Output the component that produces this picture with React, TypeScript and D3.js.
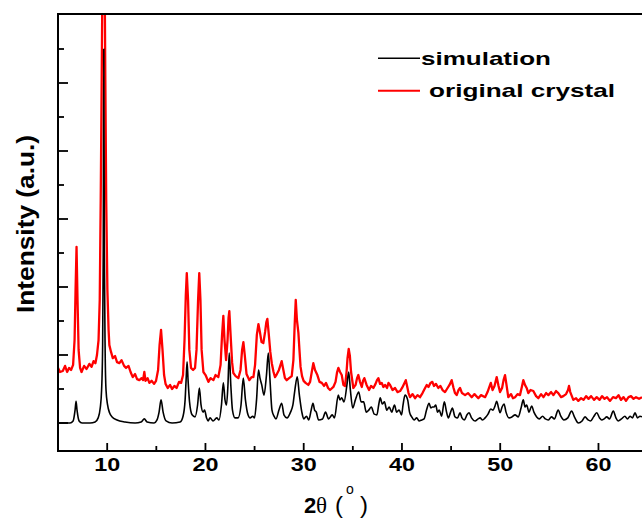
import React from "react";
import * as d3 from "d3";

// 2θ (deg), intensity (a.u.)
const simulation: [number, number][] = [
  [5.0, 0], [6.22, 0], [6.53, 30], [6.73, 190], [6.83, 320], [6.93, 190], [7.14, 30], [7.44, 0],
  [8.26, 0], [8.77, 15], [9.08, 75], [9.29, 220], [9.43, 485], [9.53, 1075], [9.6, 2545], [9.65, 5500],
  [9.71, 2545], [9.79, 1075], [9.88, 485], [10.04, 265], [10.24, 150], [10.5, 90], [11.0, 45], [11.82, 15],
  [12.84, 0], [13.45, 15], [13.78, 60], [14.06, 15], [14.77, 0], [15.07, 45], [15.28, 160], [15.48, 340],
  [15.69, 160], [15.99, 30], [16.6, 0], [17.42, 15], [17.72, 100], [17.93, 340], [18.03, 630], [18.13, 900],
  [18.23, 630], [18.38, 310], [18.64, 120], [18.94, 90], [19.2, 265], [19.38, 515], [19.55, 265], [19.76, 160],
  [19.91, 190], [20.11, 75], [20.27, 30], [20.47, 75], [20.77, 30], [21.15, 75], [21.38, 45], [21.63, 265],
  [21.82, 590], [21.99, 340], [22.14, 265], [22.29, 560], [22.42, 1030], [22.58, 560], [22.75, 190], [23.01, 75],
  [23.32, 75], [23.62, 265], [23.85, 660], [24.07, 340], [24.33, 120], [24.54, 75], [24.81, 100], [24.99, 75],
  [25.2, 340], [25.4, 780], [25.55, 660], [25.73, 560], [25.96, 410], [26.21, 705], [26.4, 1030], [26.57, 630],
  [26.77, 190], [26.98, 100], [27.18, 60], [27.48, 190], [27.76, 290], [27.99, 120], [28.3, 75], [28.66, 160],
  [28.9, 265], [29.1, 485], [29.34, 680], [29.56, 410], [29.81, 160], [30.01, 60], [30.28, 100], [30.52, 45],
  [30.76, 190], [30.94, 290], [31.11, 190], [31.28, 160], [31.51, 45], [31.92, 60], [32.22, 160], [32.53, 60],
  [32.9, 120], [33.13, 75], [33.52, 410], [33.69, 340], [33.87, 370], [34.1, 310], [34.4, 560], [34.58, 750],
  [34.75, 485], [34.99, 220], [35.26, 340], [35.6, 455], [35.84, 310], [36.1, 310], [36.37, 160], [36.62, 190],
  [36.88, 235], [37.18, 130], [37.45, 120], [37.63, 265], [37.79, 370], [37.99, 280], [38.22, 310], [38.45, 190],
  [38.7, 235], [38.96, 160], [39.24, 265], [39.46, 160], [39.71, 190], [39.96, 120], [40.11, 265], [40.31, 410],
  [40.58, 340], [40.77, 160], [40.99, 90], [41.23, 45], [41.5, 75], [41.74, 30], [42.01, 45], [42.25, 60],
  [42.5, 190], [42.76, 290], [42.94, 220], [43.09, 235], [43.26, 235], [43.44, 265], [43.62, 160], [43.8, 190],
  [44.03, 100], [44.31, 310], [44.54, 160], [44.72, 75], [44.95, 160], [45.13, 220], [45.4, 90], [45.66, 75],
  [45.91, 150], [46.11, 75], [46.35, 45], [46.62, 120], [46.83, 150], [47.08, 75], [47.44, 30], [47.74, 60],
  [47.95, 75], [48.2, 45], [48.46, 75], [48.76, 130], [49.04, 205], [49.27, 190], [49.47, 250], [49.64, 320],
  [49.83, 220], [49.98, 150], [50.19, 235], [50.39, 280], [50.59, 160], [50.9, 75], [51.2, 90], [51.51, 120],
  [51.84, 90], [52.12, 220], [52.35, 340], [52.52, 235], [52.69, 265], [52.93, 160], [53.2, 250], [53.43, 160],
  [53.71, 90], [53.99, 60], [54.31, 100], [54.6, 60], [54.88, 45], [55.22, 90], [55.51, 60], [55.9, 190],
  [56.17, 100], [56.48, 45], [56.88, 75], [57.26, 175], [57.6, 75], [57.95, 0], [58.33, 30], [58.63, 90],
  [58.94, 45], [59.19, 30], [59.5, 90], [59.82, 150], [60.11, 75], [60.33, 45], [60.57, 60], [60.84, 90],
  [61.12, 60], [61.51, 175], [61.78, 75], [62.01, 30], [62.34, 60], [62.69, 100], [62.95, 60], [63.21, 100],
  [63.46, 75], [63.72, 150], [63.97, 75], [64.23, 100], [64.43, 90],
];

const crystal: [number, number][] = [
  [5.0, 810], [5.2, 750], [5.48, 765], [5.71, 840], [5.92, 750], [6.12, 810], [6.32, 780], [6.53, 855],
  [6.68, 1220], [6.78, 1955], [6.88, 2590], [6.98, 1810], [7.09, 1075], [7.24, 810], [7.39, 750], [7.65, 840],
  [7.9, 795], [8.19, 870], [8.41, 825], [8.61, 910], [8.8, 880], [8.96, 1000], [9.12, 1220], [9.24, 1810],
  [9.34, 3280], [9.44, 5045], [9.53, 6810], [9.63, 7690], [9.73, 6810], [9.81, 5045], [9.9, 3280], [10.02, 1955],
  [10.14, 1370], [10.22, 1145], [10.39, 1045], [10.57, 955], [10.8, 985], [11.0, 895], [11.24, 880], [11.46, 925],
  [11.72, 840], [11.92, 810], [12.17, 840], [12.38, 750], [12.6, 675], [12.84, 720], [13.04, 645], [13.27, 630],
  [13.5, 660], [13.65, 630], [13.78, 750], [13.9, 620], [14.11, 660], [14.29, 590], [14.52, 620], [14.77, 575],
  [14.97, 620], [15.18, 780], [15.33, 1145], [15.48, 1370], [15.63, 1075], [15.79, 705], [15.94, 575], [16.16, 515],
  [16.4, 560], [16.6, 500], [16.84, 545], [17.06, 515], [17.31, 605], [17.52, 590], [17.72, 705], [17.87, 1220],
  [18.0, 1880], [18.1, 2205], [18.23, 1810], [18.36, 1075], [18.53, 810], [18.74, 780], [18.94, 810], [19.09, 1075],
  [19.25, 1810], [19.37, 2205], [19.49, 1810], [19.61, 1075], [19.79, 750], [20.01, 705], [20.3, 605], [20.52, 660],
  [20.81, 630], [21.03, 705], [21.31, 675], [21.54, 855], [21.69, 1295], [21.82, 1575], [21.94, 1220], [22.1, 925],
  [22.25, 1220], [22.35, 1545], [22.43, 1645], [22.56, 1295], [22.71, 895], [22.84, 735], [23.07, 690], [23.35, 660],
  [23.57, 780], [23.73, 1075], [23.86, 1190], [24.0, 1000], [24.18, 720], [24.47, 630], [24.69, 675], [24.88, 675],
  [25.05, 855], [25.23, 1295], [25.39, 1455], [25.54, 1340], [25.71, 1190], [25.89, 1175], [26.07, 1340], [26.2, 1485],
  [26.3, 1530], [26.45, 1295], [26.6, 1045], [26.75, 880], [26.93, 750], [27.08, 675], [27.27, 720], [27.48, 780],
  [27.64, 855], [27.76, 910], [27.89, 810], [28.09, 660], [28.27, 630], [28.51, 660], [28.78, 690], [28.95, 925],
  [29.08, 1440], [29.19, 1810], [29.31, 1515], [29.46, 1325], [29.58, 1045], [29.68, 825], [29.83, 690], [29.99, 620],
  [30.19, 590], [30.47, 560], [30.65, 605], [30.82, 750], [30.98, 880], [31.15, 780], [31.39, 705], [31.61, 605],
  [31.84, 590], [32.07, 545], [32.27, 590], [32.48, 515], [32.68, 485], [33.02, 530], [33.24, 605], [33.4, 750],
  [33.53, 810], [33.7, 750], [33.87, 705], [34.04, 560], [34.21, 545], [34.36, 750], [34.46, 955], [34.58, 1090],
  [34.7, 985], [34.82, 750], [35.05, 515], [35.28, 560], [35.43, 660], [35.56, 705], [35.73, 605], [35.91, 530],
  [36.04, 620], [36.17, 660], [36.4, 560], [36.65, 485], [36.85, 545], [37.09, 515], [37.31, 575], [37.46, 630],
  [37.6, 660], [37.77, 575], [37.94, 590], [38.11, 530], [38.28, 560], [38.48, 515], [38.63, 590], [38.79, 560],
  [39.04, 485], [39.3, 515], [39.55, 455], [39.81, 470], [40.01, 515], [40.16, 560], [40.39, 630], [40.52, 545],
  [40.67, 440], [40.82, 380], [41.08, 425], [41.33, 365], [41.58, 410], [41.84, 380], [42.09, 440], [42.3, 500],
  [42.52, 560], [42.7, 530], [42.91, 590], [43.09, 605], [43.26, 545], [43.46, 575], [43.7, 515], [43.92, 545],
  [44.13, 485], [44.38, 455], [44.58, 500], [44.84, 560], [45.06, 630], [45.25, 515], [45.4, 440], [45.57, 410],
  [45.76, 485], [45.91, 515], [46.11, 440], [46.42, 410], [46.72, 440], [47.1, 380], [47.38, 425], [47.77, 365],
  [48.05, 410], [48.46, 380], [48.71, 455], [48.86, 515], [49.04, 590], [49.22, 485], [49.42, 545], [49.64, 675],
  [49.83, 545], [49.98, 455], [50.19, 515], [50.34, 630], [50.49, 705], [50.64, 560], [50.82, 380], [51.1, 425],
  [51.3, 365], [51.51, 380], [51.76, 425], [52.01, 410], [52.2, 530], [52.35, 630], [52.52, 560], [52.69, 515],
  [52.86, 440], [53.09, 485], [53.37, 470], [53.65, 395], [53.88, 365], [54.16, 425], [54.4, 380], [54.67, 440],
  [54.9, 410], [55.18, 455], [55.41, 410], [55.68, 470], [55.91, 440], [56.19, 380], [56.42, 395], [56.7, 425],
  [56.9, 485], [57.0, 545], [57.13, 455], [57.44, 340], [57.72, 365], [57.95, 325], [58.23, 365], [58.48, 340],
  [58.74, 395], [58.99, 355], [59.25, 395], [59.55, 340], [59.82, 380], [60.11, 340], [60.36, 395], [60.62, 355],
  [60.87, 380], [61.18, 325], [61.48, 380], [61.78, 365], [62.04, 410], [62.29, 340], [62.55, 380], [62.8, 325],
  [63.06, 380], [63.31, 395], [63.57, 355], [63.82, 380], [64.13, 355], [64.43, 380],
];

const xMajorTicks = [10, 20, 30, 40, 50, 60];
const xMinorTicks = [15, 25, 35, 45, 55];
const yMajorTicks = [0, 1000, 2000, 3000, 4000, 5000];
const yMinorTicks = [500, 1500, 2500, 3500, 4500, 5500];

const seriesNames = ["simulation", "original crystal"];
const seriesColors = ["#000000", "#ff0000"];

const W = 642;
const H = 520;
const left = 58;
const top = 14;
const bottom = 451;

export default function App() {
  const x = d3.scaleLinear().domain([5, 65]).range([58.07, 647.6]);
  const y = d3.scaleLinear().domain([0, 6000]).range([423, 15]);
  const simLine = d3
    .line<[number, number]>()
    .x((d) => x(d[0]))
    .y((d) => y(d[1]))
    .curve(d3.curveMonotoneX);
  const expLine = d3
    .line<[number, number]>()
    .x((d) => x(d[0]))
    .y((d) => y(d[1]));

  const font = "'Liberation Sans', Arial, sans-serif";

  return (
    <div style={{ position: "fixed", left: 0, top: 0, width: W, height: H, background: "#fff" }}>
      <svg width={W} height={H} style={{ display: "block" }}>
        <defs>
          <clipPath id="plotClip">
            <rect x={left} y={top} width={W - left} height={bottom - top} />
          </clipPath>
        </defs>
        <rect x={0} y={0} width={W} height={H} fill="#fff" />
        <g clipPath="url(#plotClip)">
          <path d={expLine(crystal) || ""} fill="none" stroke={seriesColors[1]} strokeWidth={2.3} strokeLinejoin="round" />
          <path d={simLine(simulation) || ""} fill="none" stroke={seriesColors[0]} strokeWidth={1.6} strokeLinejoin="round" />
        </g>
        {/* frame */}
        <line x1={left} y1={top} x2={W} y2={top} stroke="#000" strokeWidth={2} />
        <line x1={left} y1={bottom} x2={W} y2={bottom} stroke="#000" strokeWidth={2} />
        <line x1={left} y1={top - 1} x2={left} y2={bottom + 1} stroke="#000" strokeWidth={2} />
        {/* y ticks */}
        {yMajorTicks.map((t) => (
          <line key={"ym" + t} x1={left} x2={left + 10} y1={y(t)} y2={y(t)} stroke="#000" strokeWidth={1.8} />
        ))}
        {yMinorTicks.map((t) => (
          <line key={"yn" + t} x1={left} x2={left + 6} y1={y(t)} y2={y(t)} stroke="#000" strokeWidth={1.8} />
        ))}
        {/* x ticks */}
        {xMajorTicks.map((t) => (
          <g key={"xm" + t}>
            <line x1={x(t)} x2={x(t)} y1={bottom} y2={bottom - 8} stroke="#000" strokeWidth={1.8} />
            <text
              x={x(t)}
              y={471}
              textAnchor="middle"
              fontFamily={font}
              fontWeight="bold"
              fontSize={18}
              textLength={26}
              lengthAdjust="spacingAndGlyphs"
            >
              {t}
            </text>
          </g>
        ))}
        {xMinorTicks.map((t) => (
          <line key={"xn" + t} x1={x(t)} x2={x(t)} y1={bottom} y2={bottom - 5} stroke="#000" strokeWidth={1.8} />
        ))}
        {/* x label */}
        <text y={513} fontFamily={font} fill="#000">
          <tspan x={304} fontWeight="bold" fontSize={22}>2</tspan>
          <tspan x={316} fontFamily="'Liberation Serif', 'DejaVu Serif', serif" fontSize={23}>θ</tspan>
          <tspan x={335} fontSize={24}>(</tspan>
          <tspan x={346} y={494} fontSize={14}>o</tspan>
          <tspan x={360} y={513} fontSize={24}>)</tspan>
        </text>
        {/* y label */}
        <text
          transform="translate(34,224) rotate(-90)"
          textAnchor="middle"
          fontFamily={font}
          fontWeight="bold"
          fontSize={23}
          textLength={178}
          lengthAdjust="spacingAndGlyphs"
        >
          Intensity (a.u.)
        </text>
        {/* legend */}
        <line x1={378} x2={420} y1={58.3} y2={58.3} stroke={seriesColors[0]} strokeWidth={1.5} />
        <text x={421} y={64.5} fontFamily={font} fontWeight="bold" fontSize={19} textLength={130} lengthAdjust="spacingAndGlyphs">
          {seriesNames[0]}
        </text>
        <line x1={378} x2={420} y1={90.7} y2={90.7} stroke={seriesColors[1]} strokeWidth={2} />
        <text x={429} y={97} fontFamily={font} fontWeight="bold" fontSize={19} textLength={186} lengthAdjust="spacingAndGlyphs">
          {seriesNames[1]}
        </text>
      </svg>
    </div>
  );
}
